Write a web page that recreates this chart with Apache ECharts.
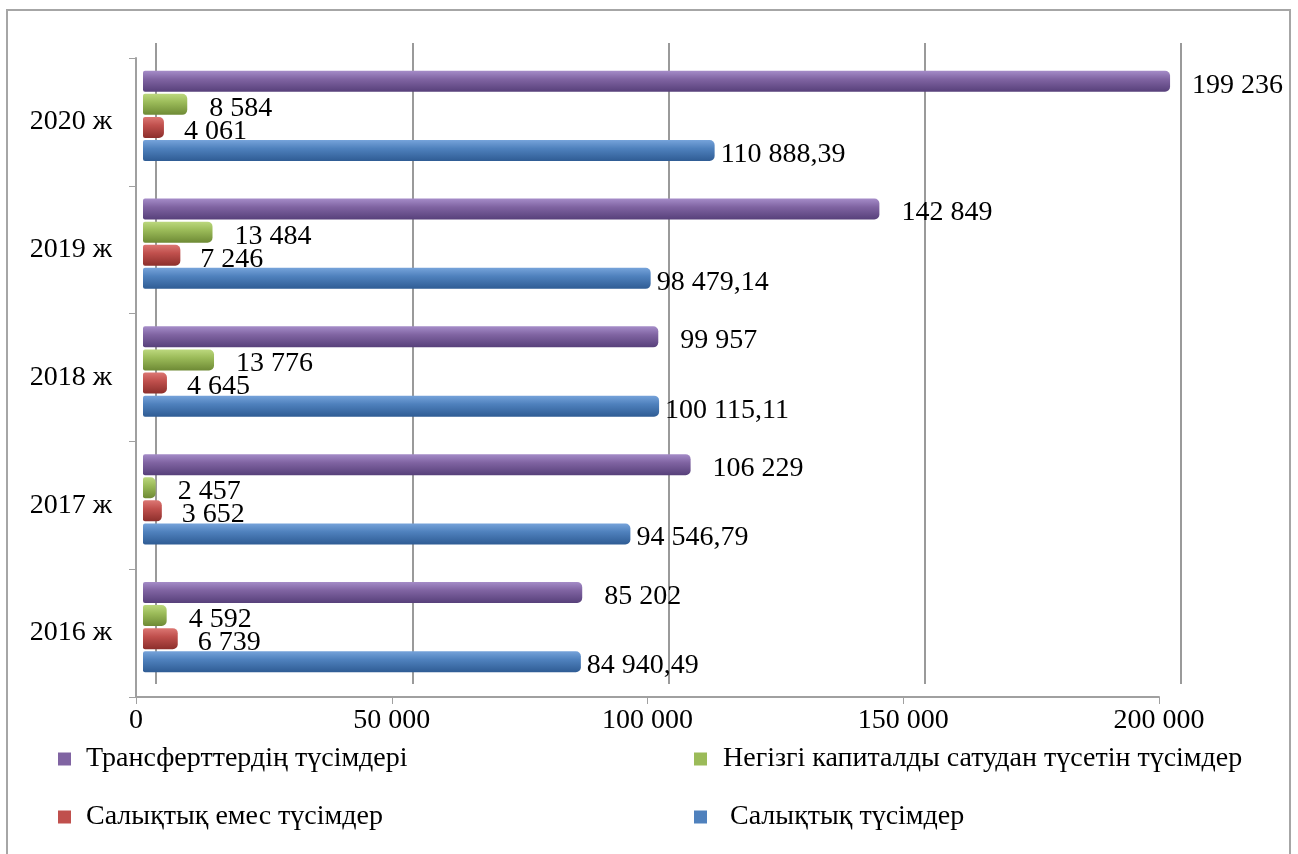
<!DOCTYPE html>
<html>
<head>
<meta charset="utf-8">
<script src="https://cdn.jsdelivr.net/npm/echarts@6/dist/echarts.min.js"></script>
<style>
html,body{margin:0;padding:0;background:#fff;}
#chart{position:absolute;left:0;top:0;width:1298px;height:854px;}
#frame{position:absolute;left:6px;top:9px;width:1285px;height:860px;border:2px solid #a6a6a6;box-sizing:border-box;pointer-events:none;}
</style>
</head>
<body>
<div id="chart"></div>
<div id="frame"></div>
<script>
// ---- data ----
const years = ['2016 ж', '2017 ж', '2018 ж', '2019 ж', '2020 ж'];
const seriesNames = ['Трансферттердің түсімдері', 'Негізгі капиталды сатудан түсетін түсімдер', 'Салықтық емес түсімдер', 'Салықтық түсімдер'];
const transfers = [85202, 106229, 99957, 142849, 199236];
const capitalSales = [4592, 2457, 13776, 13484, 8584];
const nonTax = [6739, 3652, 4645, 7246, 4061];
const tax = [84940.49, 94546.79, 100115.11, 98479.14, 110888.39];
const xTicks = [0, 50000, 100000, 150000, 200000];

const colors = ['#8064A2', '#9BBB59', '#C0504D', '#4F81BD'];
const lights = ['#A58CC8', '#BCD87E', '#DC7773', '#76A3DA'];
const darks = ['#57407A', '#6E8A35', '#8C2F2C', '#2F5C94'];
const labelDist = [22, 22, 20, 6];
const FONT = '"Liberation Serif", "Times New Roman", serif';
const FS = 28;

function fmt(v) {
  const isInt = Math.abs(v - Math.round(v)) < 1e-9;
  let s = isInt ? String(Math.round(v)) : v.toFixed(2);
  let parts = s.split('.');
  parts[0] = parts[0].replace(/\B(?=(\d{3})+(?!\d))/g, ' ');
  return parts.join(',');
}

const dataSets = [transfers, capitalSales, nonTax, tax];

const chart = echarts.init(document.getElementById('chart'), null, {renderer: 'canvas'});

const series = dataSets.map((d, i) => ({
  name: seriesNames[i],
  type: 'bar',
  xAxisIndex: 2,
  yAxisIndex: 2,
  data: d,
  barWidth: 21,
  barGap: '10%',
  itemStyle: {
    color: new echarts.graphic.LinearGradient(0, 0, 0, 1, [
      {offset: 0, color: lights[i]},
      {offset: 0.4, color: colors[i]},
      {offset: 1, color: darks[i]}
    ]),
    borderRadius: [2, 5, 5, 2]
  },
  label: {
    show: true,
    position: 'right',
    distance: labelDist[i],
    offset: [0, 4],
    color: '#000',
    fontFamily: FONT,
    fontSize: FS,
    formatter: p => fmt(p.value)
  },
  animation: false
}));

const legendPos = [
  {left: 58, top: 745, pad: 10},
  {left: 694, top: 745, pad: 11},
  {left: 58, top: 803, pad: 10},
  {left: 694, top: 803, pad: 18}
];
const legends = seriesNames.map((n, i) => ({
  data: [{name: n, itemStyle: {color: colors[i]}}],
  left: legendPos[i].left,
  top: legendPos[i].top,
  padding: 0,
  icon: 'rect',
  itemWidth: 13,
  itemHeight: 13,
  itemGap: 0,
  selectedMode: false,
  textStyle: {fontFamily: FONT, fontSize: FS, color: '#000', padding: [0, 0, 0, legendPos[i].pad]}
}));

const option = {
  backgroundColor: '#fff',
  animation: false,
  legend: legends,
  grid: [
    {left: 136, right: 139, top: 58, bottom: 157},   // front plane (axes)
    {left: 156, right: 117, top: 43, bottom: 170},   // back wall (grid lines)
    {left: 143, right: 124, top: 52, bottom: 163}    // bars
  ],
  xAxis: [
    {
      gridIndex: 0, type: 'value', min: 0, max: 200000, interval: 50000,
      axisLine: {show: true, lineStyle: {color: '#a0a0a0', width: 2}},
      axisTick: {show: true, length: 7, lineStyle: {color: '#a0a0a0', width: 1}},
      splitLine: {show: false},
      axisLabel: {
        margin: 10, color: '#000', fontFamily: FONT, fontSize: FS,
        formatter: v => fmt(v)
      }
    },
    {
      gridIndex: 1, type: 'value', min: 0, max: 200000, interval: 50000,
      axisLine: {show: false}, axisTick: {show: false}, axisLabel: {show: false},
      splitLine: {show: true, lineStyle: {color: '#9a9a9a', width: 2}}
    },
    {
      gridIndex: 2, type: 'value', min: 0, max: 200000,
      show: false
    }
  ],
  yAxis: [
    {
      gridIndex: 0, type: 'category', data: years,
      axisLine: {show: true, lineStyle: {color: '#a0a0a0', width: 2}},
      axisTick: {show: true, length: 7, lineStyle: {color: '#a0a0a0', width: 1}},
      axisLabel: {margin: 24, color: '#000', fontFamily: FONT, fontSize: FS},
      splitLine: {show: false}
    },
    {
      gridIndex: 1, type: 'category', data: years,
      axisLine: {show: false}, axisTick: {show: false}, axisLabel: {show: false},
      splitLine: {show: false}
    },
    {
      gridIndex: 2, type: 'category', data: years, show: false
    }
  ],
  series: series
};
chart.setOption(option);
</script>
</body>
</html>
